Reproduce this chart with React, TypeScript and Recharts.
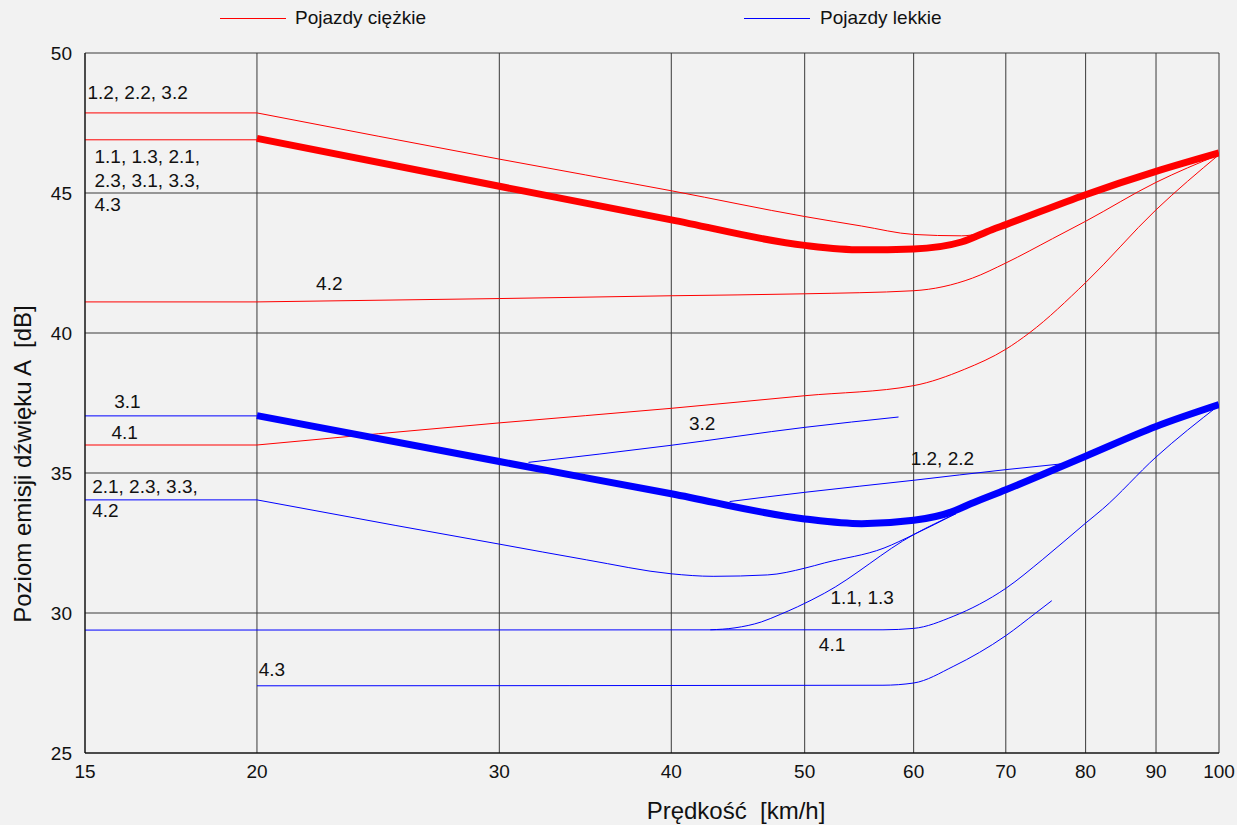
import React from "react";
import { LineChart, Line, XAxis, YAxis, CartesianGrid, ReferenceDot } from "recharts";

// axis ticks
const speedTicks = [15, 20, 30, 40, 50, 60, 70, 80, 90, 100];
const levelTicks = [25, 30, 35, 40, 45, 50];

// Pojazdy ciężkie  [speed km/h, level dB]
const heavy12: number[][] = [
  [15, 47.86], [20, 47.86], [30, 46.21], [40, 45.08], [50, 44.16],
  [55, 43.82], [60, 43.52], [65, 43.47], [67, 43.55],
];
const heavyMainLead: number[][] = [[15, 46.9], [20, 46.9]];
const heavyMain: number[][] = [
  [20, 46.95], [30, 45.24], [40, 44.04], [50, 43.13], [55, 42.97], [60, 43.0],
  [65, 43.25], [68.4, 43.69], [70, 43.87], [80, 44.94], [90, 45.77], [100, 46.43],
];
const heavy42: number[][] = [
  [15, 41.11], [20, 41.11], [30, 41.23], [40, 41.33], [50, 41.4], [60, 41.51],
  [66.2, 41.96], [70, 42.5], [75.7, 43.37], [80, 43.99], [90, 45.38], [100, 46.37],
];
const heavy41: number[][] = [
  [15, 36.0], [20, 36.0], [30, 36.79], [40, 37.31], [50, 37.76], [60, 38.12],
  [65.3, 38.7], [70, 39.42], [72.8, 40.0], [80, 41.8], [90, 44.4], [100, 46.37],
];

// Pojazdy lekkie
const light31Lead: number[][] = [[15, 37.04], [20, 37.04]];
const lightMain: number[][] = [
  [20, 37.05], [30, 35.41], [40, 34.26], [50, 33.36], [55, 33.19], [60, 33.31],
  [64.1, 33.63], [66, 33.9], [70, 34.4], [80, 35.6], [90, 36.66], [100, 37.44],
];
const light32: number[][] = [[31.5, 35.38], [40, 35.99], [50, 36.63], [58.5, 37.0]];
const light12: number[][] = [[44.1, 33.98], [50, 34.31], [60, 34.74], [70, 35.12], [77, 35.33]];
const light21: number[][] = [
  [15, 34.04], [20, 34.04], [25.2, 33.13], [30, 32.46], [34.7, 31.9], [40, 31.4],
  [42.9, 31.31], [47, 31.36], [50, 31.6], [51.7, 31.79], [57.1, 32.32], [60, 32.8], [64.4, 33.55],
];
const light11: number[][] = [
  [42.7, 29.4], [44.5, 29.47], [46.5, 29.68], [48, 29.95], [49.4, 30.22],
  [51.7, 30.71], [60, 32.8], [64.4, 33.55],
];
const light41: number[][] = [
  [15, 29.39], [57, 29.4], [60, 29.45], [64.1, 29.88], [70, 30.88], [74.4, 31.9],
  [80, 33.21], [82.3, 33.71], [90, 35.57], [100, 37.42],
];
const light43: number[][] = [
  [20, 27.4], [57, 27.42], [60, 27.5], [64.1, 28.09], [70, 29.19], [73.6, 30.0], [75.6, 30.44],
];

// annotations [speed, level, text lines]
const notes: [number, number, string[]][] = [
  [15.06, 48.35, ["1.2, 2.2, 3.2"]],
  [15.24, 46.08, ["1.1, 1.3, 2.1,", "2.3, 3.1, 3.3,", "4.3"]],
  [22.08, 41.55, ["4.2"]],
  [15.75, 37.32, ["3.1"]],
  [15.68, 36.21, ["4.1"]],
  [15.18, 34.29, ["2.1, 2.3, 3.3,", "4.2"]],
  [41.2, 36.55, ["3.2"]],
  [59.7, 35.3, ["1.2, 2.2"]],
  [52.2, 30.33, ["1.1, 1.3"]],
  [51.2, 28.66, ["4.1"]],
  [20.06, 27.74, ["4.3"]],
];

const RED = "#ff0000";
const BLUE = "#0000ff";
const FONT = "'Liberation Sans', Arial, sans-serif";

const toPts = (arr: number[][]) => arr.map(([x, y]) => ({ x, y }));

// corner: speed where a flat straight lead ends with a sharp bend
const series = [
  { name: "h12", data: heavy12, color: RED, w: 1, corner: 20 },
  { name: "hLead", data: heavyMainLead, color: RED, w: 1, corner: 0 },
  { name: "h42", data: heavy42, color: RED, w: 1, corner: 20 },
  { name: "h41", data: heavy41, color: RED, w: 1, corner: 20 },
  { name: "l31", data: light31Lead, color: BLUE, w: 1, corner: 0 },
  { name: "l32", data: light32, color: BLUE, w: 1, corner: 0 },
  { name: "l12", data: light12, color: BLUE, w: 1, corner: 0 },
  { name: "l21", data: light21, color: BLUE, w: 1, corner: 20 },
  { name: "l11", data: light11, color: BLUE, w: 1, corner: 0 },
  { name: "l41", data: light41, color: BLUE, w: 1, corner: 0 },
  { name: "l43", data: light43, color: BLUE, w: 1, corner: 0 },
  { name: "hMain", data: heavyMain, color: RED, w: 7, corner: 0 },
  { name: "lMain", data: lightMain, color: BLUE, w: 7, corner: 0 },
];

const parts = series.flatMap((s) => {
  if (!s.corner) return [{ key: s.name, pts: s.data, color: s.color, w: s.w, type: "monotone" }];
  return [
    { key: s.name + "a", pts: s.data.filter((p) => p[0] <= s.corner), color: s.color, w: s.w, type: "linear" },
    { key: s.name + "b", pts: s.data.filter((p) => p[0] >= s.corner), color: s.color, w: s.w, type: "monotone" },
  ];
});

const noteShape = (lines: string[]) => (props: any) => (
  <text x={props.cx} y={props.cy} fontSize={19} fill="#111" fontFamily={FONT}>
    {lines.map((l, i) => (
      <tspan key={i} x={props.cx} dy={i === 0 ? 0 : 24}>
        {l}
      </tspan>
    ))}
  </text>
);

const xTitle = (props: any) => {
  const vb = props.viewBox;
  return (
    <text
      x={vb.x + vb.width / 2 + 84}
      y={vb.y + 66}
      textAnchor="middle"
      fontSize={24}
      fill="#111"
      fontFamily={FONT}
      style={{ whiteSpace: "pre" }}
    >
      {"Prędkość  [km/h]"}
    </text>
  );
};

const yTitle = (props: any) => {
  const vb = props.viewBox;
  const cx = vb.x + 6;
  const cy = vb.y + vb.height / 2 + 61;
  return (
    <text
      x={cx}
      y={cy}
      transform={`rotate(-90, ${cx}, ${cy})`}
      textAnchor="middle"
      fontSize={24}
      fill="#111"
      fontFamily={FONT}
      style={{ whiteSpace: "pre" }}
    >
      {"Poziom emisji dźwięku A  [dB]"}
    </text>
  );
};

export default function App() {
  return (
    <div
      style={{
        position: "absolute",
        left: 0,
        top: 0,
        width: 1237,
        height: 825,
        background: "#f2f2f2",
        fontFamily: FONT,
      }}
    >
      {/* legend */}
      <svg width={1237} height={40} style={{ position: "absolute", left: 0, top: 0 }}>
        <line x1={220} y1={18.5} x2={286} y2={18.5} stroke={RED} strokeWidth={1} />
        <text x={295} y={24} fontSize={19} fill="#111" fontFamily={FONT}>
          Pojazdy ciężkie
        </text>
        <line x1={744} y1={18.5} x2={810} y2={18.5} stroke={BLUE} strokeWidth={1} />
        <text x={820} y={24} fontSize={19} fill="#111" fontFamily={FONT}>
          Pojazdy lekkie
        </text>
      </svg>
      <LineChart
        width={1237}
        height={825}
        margin={{ top: 53, right: 18, bottom: 42, left: 25 }}
      >
        <CartesianGrid stroke="#3a3a3a" strokeWidth={1} fill="none" />
        <XAxis
          dataKey="x"
          type="number"
          scale="log"
          domain={[15, 100]}
          ticks={speedTicks}
          allowDataOverflow
          height={30}
          tickSize={0}
          tickMargin={12}
          axisLine={{ stroke: "#000" }}
          tick={{ fill: "#111", fontSize: 19 }}
          label={xTitle}
        />
        <YAxis
          type="number"
          domain={[25, 50]}
          ticks={levelTicks}
          width={60}
          tickSize={0}
          tickMargin={13}
          axisLine={{ stroke: "#000" }}
          tick={{ fill: "#111", fontSize: 19 }}
          label={yTitle}
        />
        {parts.map((p) => (
          <Line
            key={p.key}
            data={toPts(p.pts)}
            dataKey="y"
            type={p.type as any}
            stroke={p.color}
            strokeWidth={p.w}
            dot={false}
            activeDot={false}
            isAnimationActive={false}
          />
        ))}
        {notes.map(([x, y, lines], i) => (
          <ReferenceDot key={i} x={x} y={y} r={0} shape={noteShape(lines)} />
        ))}
      </LineChart>
    </div>
  );
}
